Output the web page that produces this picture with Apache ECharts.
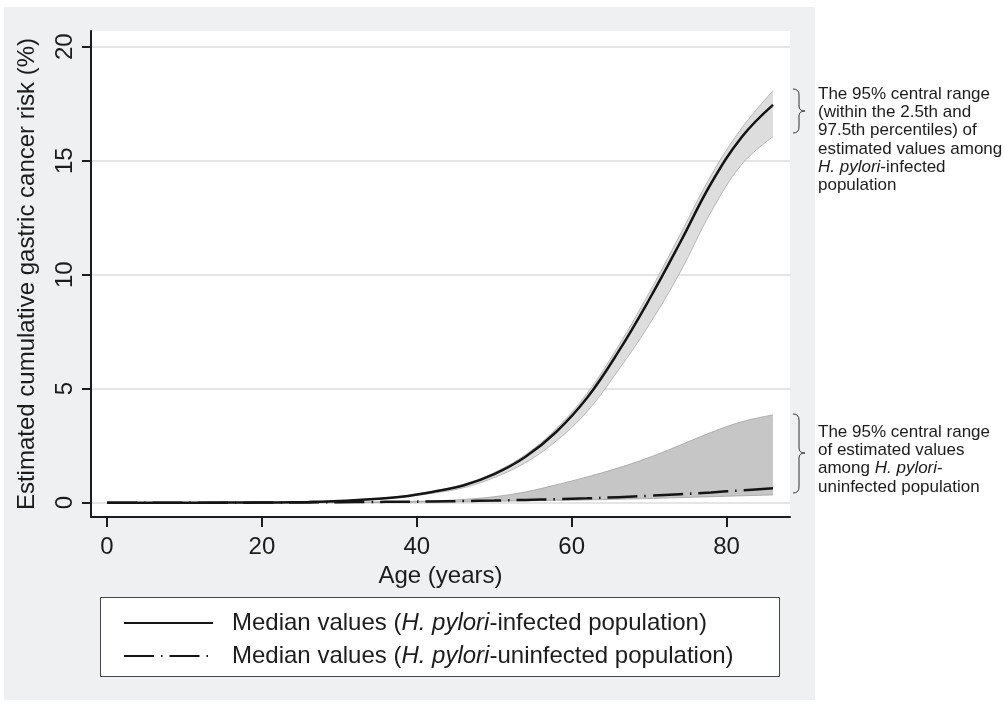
<!DOCTYPE html>
<html>
<head>
<meta charset="utf-8">
<script src="https://cdn.jsdelivr.net/npm/echarts@6/dist/echarts.min.js"></script>
<style>
html, body { margin: 0; padding: 0; background: #fff; }
/* grey Stata-style panel behind the chart */
#panel { position: absolute; left: 4px; top: 7px; width: 811px; height: 693px; background: #eff0f2; }
#chart { position: absolute; left: 0; top: 0; width: 1004px; height: 706px; }
</style>
</head>
<body>
<div id="panel"></div>
<div id="chart"></div>
<script>
// age grid (years)
const ages = [0, 6, 12, 18, 22, 26, 30, 34, 38, 42, 46, 50, 54, 58, 62, 66, 70, 74, 78, 82, 86]
// H. pylori-infected: median and 95% central range
const infMedian = [0, 0, 0, 0.005, 0.01, 0.03, 0.07, 0.15, 0.26, 0.47, 0.75, 1.25, 2.0, 3.1, 4.6, 6.6, 8.9, 11.4, 14.0, 16.05, 17.45]
const infLower = [0, 0, 0, 0, 0, 0.02, 0.06, 0.13, 0.23, 0.41, 0.65, 1.1, 1.75, 2.7, 4.0, 5.8, 7.8, 10.1, 12.75, 14.85, 16.05]
const infUpper = [0, 0, 0, 0.01, 0.02, 0.04, 0.08, 0.16, 0.28, 0.5, 0.8, 1.32, 2.1, 3.24, 4.8, 6.85, 9.2, 11.75, 14.35, 16.45, 18.07]
// H. pylori-uninfected: median and 95% central range
const uninfMedian = [0, 0, 0, 0, 0.01, 0.01, 0.02, 0.03, 0.04, 0.05, 0.07, 0.09, 0.12, 0.15, 0.19, 0.24, 0.3, 0.37, 0.45, 0.54, 0.63]
const uninfLower = [0, 0, 0, 0, 0, 0, 0, 0.01, 0.02, 0.03, 0.04, 0.06, 0.08, 0.1, 0.12, 0.15, 0.18, 0.22, 0.26, 0.3, 0.34]
const uninfUpper = [0, 0, 0, 0, 0.01, 0.01, 0.02, 0.03, 0.05, 0.08, 0.14, 0.26, 0.47, 0.78, 1.13, 1.52, 1.98, 2.52, 3.08, 3.55, 3.85]
// tick labels
const xTicks = [0, 20, 40, 60, 80]
const yTicks = [0, 5, 10, 15, 20]

const names = [
  'Median values (H. pylori-infected population)',
  'Median values (H. pylori-uninfected population)'
]

// rows are [value, age] so that stacking works on the value column
const rows = (ys) => ages.map((a, i) => [ys[i], a])
const diffRows = (hi, lo) => ages.map((a, i) => [+(hi[i] - lo[i]).toFixed(3), a])

const font = 'Liberation Sans, Arial, Helvetica, sans-serif'
const ink = '#1c1c1c'

const myChart = echarts.init(document.getElementById('chart'))

const band = (stack, lower, upper, fill, edge) => [
  {
    type: 'line', stack: stack, data: rows(lower), encode: { x: 1, y: 0 },
    smooth: 0.4, symbol: 'none', silent: true, z: 2,
    lineStyle: { color: edge, width: 0.8 }
  },
  {
    type: 'line', stack: stack, data: diffRows(upper, lower), encode: { x: 1, y: 0 },
    smooth: 0.4, symbol: 'none', silent: true, z: 2,
    lineStyle: { color: edge, width: 0.8 },
    areaStyle: { color: fill, opacity: 1 }
  }
]

// curly brace "}" built from small curves and lines
function brace(y0, ym, y1) {
  const st = { stroke: '#333', lineWidth: 1, fill: 'none' }
  const c = (x1, y1_, x2, y2, cx, cy) => ({ type: 'bezierCurve', silent: true, shape: { x1: x1, y1: y1_, x2: x2, y2: y2, cpx1: cx, cpy1: cy }, style: st })
  const l = (x1, y1_, x2, y2) => ({ type: 'line', silent: true, shape: { x1: x1, y1: y1_, x2: x2, y2: y2 }, style: st })
  return [
    c(793, y0, 799, y0 + 6, 799, y0),
    l(799, y0 + 6, 799, ym - 5),
    c(799, ym - 5, 805, ym, 799, ym),
    c(805, ym, 799, ym + 5, 799, ym),
    l(799, ym + 5, 799, y1 - 6),
    c(799, y1 - 6, 793, y1, 799, y1)
  ]
}

const option = {
  backgroundColor: 'transparent',
  animation: false,
  textStyle: { fontFamily: font },
  grid: {
    left: 91, top: 31, right: 214, bottom: 189,
    show: true, backgroundColor: '#fff', borderWidth: 0
  },
  xAxis: {
    type: 'value',
    min: -2.07, max: 88.2,
    name: 'Age (years)', nameLocation: 'middle', nameGap: 42,
    nameTextStyle: { fontSize: 24, color: ink, fontFamily: font },
    axisLine: { onZero: false, lineStyle: { color: ink, width: 2 } },
    axisTick: { show: true, length: 10, lineStyle: { color: ink, width: 2 }, customValues: xTicks },
    axisLabel: { fontSize: 24, color: ink, margin: 18, customValues: xTicks },
    splitLine: { show: false }
  },
  yAxis: {
    type: 'value',
    min: -0.63, max: 20.69,
    name: 'Estimated cumulative gastric cancer risk (%)', nameLocation: 'middle', nameGap: 52,
    nameTextStyle: { fontSize: 24, color: ink, fontFamily: font },
    axisLine: { show: true, onZero: false, lineStyle: { color: ink, width: 2 } },
    axisTick: { show: true, length: 9, lineStyle: { color: ink, width: 2 }, customValues: yTicks },
    axisLabel: { fontSize: 24, color: ink, rotate: 90, margin: 14, customValues: yTicks },
    splitLine: { show: true, lineStyle: { color: '#e5e5e5', width: 2 } }
  },
  legend: {
    data: names,
    orient: 'vertical',
    left: 118, top: 606,
    itemWidth: 89, itemHeight: 24, itemGap: 9,
    selectedMode: false,
    itemStyle: { opacity: 0 },
    formatter: function (n) {
      const kind = n.indexOf('uninfected') > -1 ? 'uninfected' : 'infected'
      return '{n|Median values (}{i|H. pylori}{n|-' + kind + ' population)}'
    },
    textStyle: {
      color: ink, fontSize: 24, fontFamily: font, padding: [0, 0, 0, 14],
      rich: {
        n: { fontSize: 24, color: ink, fontFamily: font },
        i: { fontSize: 24, color: ink, fontFamily: font, fontStyle: 'italic' }
      }
    }
  },
  graphic: [
    {
      type: 'rect', z: 0, silent: true,
      shape: { x: 100.5, y: 597.5, width: 679, height: 79 },
      style: { fill: '#fff', stroke: '#444', lineWidth: 1 }
    },
    ...brace(89, 111, 133),
    ...brace(414, 453, 493),
    {
      type: 'text', left: 818, top: 85, silent: true,
      style: {
        text: 'The 95% central range\n(within the 2.5th and\n97.5th percentiles) of\nestimated values among\n{i|H. pylori}-infected\npopulation',
        font: '17px ' + font, fill: ink, lineHeight: 18.3,
        rich: { i: { fontStyle: 'italic', fontSize: 17, fontFamily: font, fill: ink, lineHeight: 18.3 } }
      }
    },
    {
      type: 'text', left: 818, top: 423, silent: true,
      style: {
        text: 'The 95% central range\nof estimated values\namong {i|H. pylori}-\nuninfected population',
        font: '17px ' + font, fill: ink, lineHeight: 18.3,
        rich: { i: { fontStyle: 'italic', fontSize: 17, fontFamily: font, fill: ink, lineHeight: 18.3 } }
      }
    }
  ],
  series: [
    ...band('inf', infLower, infUpper, '#dddddd', '#a9a9a9'),
    ...band('uninf', uninfLower, uninfUpper, '#c6c6c6', '#a0a0a0'),
    {
      name: names[0], type: 'line', data: rows(infMedian), encode: { x: 1, y: 0 },
      smooth: 0.4, symbol: 'none', silent: true, z: 4,
      itemStyle: { color: '#151515' },
      lineStyle: { color: '#151515', width: 2.5 }
    },
    {
      name: names[1], type: 'line', data: rows(uninfMedian), encode: { x: 1, y: 0 },
      smooth: 0.4, symbol: 'none', silent: true, z: 4,
      itemStyle: { color: '#151515' },
      lineStyle: { color: '#151515', width: 2.5, type: [30, 7, 1.5, 7] }
    }
  ]
}

myChart.setOption(option)
window.addEventListener('resize', function () {
  myChart.resize()
})
</script>
</body>
</html>
